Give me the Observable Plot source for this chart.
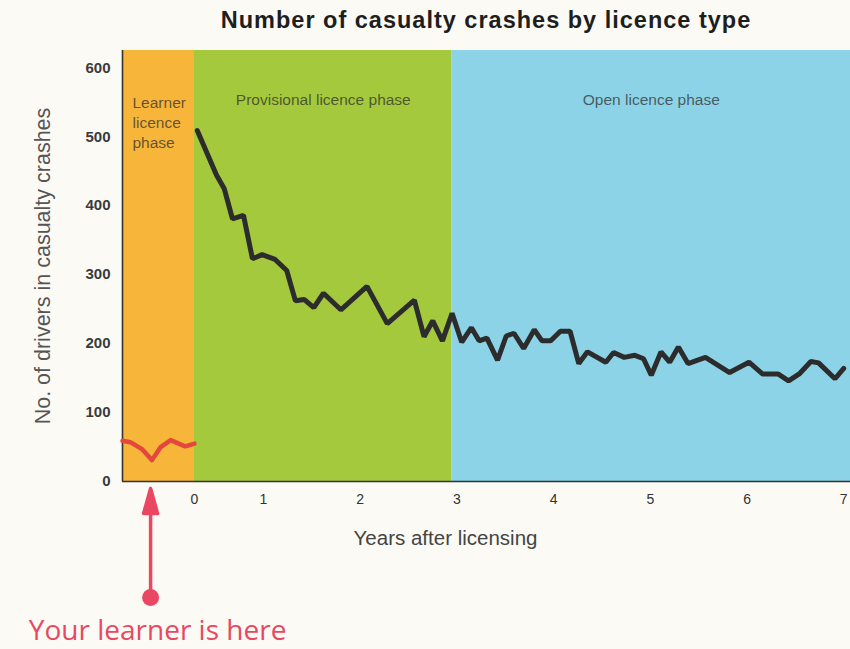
<!DOCTYPE html>
<html>
<head>
<meta charset="utf-8">
<script src="https://cdn.jsdelivr.net/npm/d3@7"></script>
<script src="https://cdn.jsdelivr.net/npm/@observablehq/plot@0.6"></script>
<style>
  body { margin: 0; background: #fbfaf5; width: 850px; height: 649px; overflow: hidden; font-family: "Liberation Sans", Arial, sans-serif; }
  #title { height: 40px; line-height: 40px; padding-left: 122px; text-align: center; font-size: 23.5px; font-weight: bold; letter-spacing: 1px; color: #1e1e1e; }
  #chart svg { display: block; overflow: visible; }
</style>
</head>
<body>
<div id="title"></div>
<div id="chart"></div>
<script>
// ---- data ----
const titleText = "Number of casualty crashes by licence type";
const yLabel = "No. of drivers in casualty crashes";
const xLabel = "Years after licensing";
const annotationText = "Your learner is here";

const phaseNames = ["Learner licence phase", "Provisional licence phase", "Open licence phase"];
const phaseBounds = [-1, 0, 2.95, 7.07];
const phaseColors = ["#f7b53a", "#a5c93d", "#8dd3e7"];

const xTicks = [0, 1, 2, 3, 4, 5, 6, 7];
const yTicks = [0, 100, 200, 300, 400, 500, 600];

const learnerYears = [-1.0, -0.89, -0.73, -0.59, -0.47, -0.33, -0.22, -0.13, 0.0];
const learnerCrashes = [59, 57, 47, 31, 50, 60, 55, 51, 55];

const licensedYears = [0.04, 0.32, 0.43, 0.55, 0.71, 0.84, 0.98, 1.12, 1.24, 1.33,
  1.42, 1.52, 1.62, 1.80, 2.07, 2.28, 2.56, 2.66, 2.75, 2.85,
  2.95, 3.05, 3.15, 3.23, 3.31, 3.42, 3.51, 3.59, 3.69, 3.80,
  3.88, 3.97, 4.07, 4.17, 4.26, 4.35, 4.54, 4.62, 4.73, 4.84,
  4.93, 5.01, 5.11, 5.20, 5.29, 5.39, 5.57, 5.82, 6.02, 6.16,
  6.32, 6.43, 6.54, 6.66, 6.74, 6.91, 7.00];
const licensedCrashes = [509, 444, 425, 381, 386, 323, 329, 322, 306, 262,
  264, 252, 273, 249, 283, 229, 263, 210, 233, 204,
  244, 202, 223, 204, 208, 176, 211, 215, 193, 220,
  204, 204, 218, 218, 171, 188, 173, 187, 180, 183,
  178, 154, 188, 173, 195, 171, 180, 158, 173, 156,
  156, 146, 156, 174, 172, 149, 164];

const learnerMarkerYear = -0.61;

// ---- derived tables ----
document.getElementById("title").textContent = titleText;

// The original's year axis is piecewise (the first year is compressed):
// years are warped onto a uniform axis, and tick labels map back to years.
const warpDomain = [-1, 0, 1, 7.07];
const warpRange = [0, 72, 141, 728];
const warp = d3.scaleLinear().domain(warpDomain).range(warpRange);

const phases = phaseNames.map((name, i) => ({
  name, start: warp(phaseBounds[i]), end: warp(phaseBounds[i + 1])
})).map(d => ({...d, mid: (d.start + d.end) / 2}));
const learner = learnerYears.map((x, i) => ({x: warp(x), y: learnerCrashes[i]}));
const licensed = licensedYears.map((x, i) => ({x: warp(x), y: licensedCrashes[i]}));
const markerX = warp(learnerMarkerYear);

const pink = "#ea4862";
const arrowShape = {
  draw(context, l) {
    const head = 25, half = 7;
    context.moveTo(0, 0);
    context.lineTo(0, -(l - head + 2));
    context.moveTo(-half, -(l - head));
    context.lineTo(0, -l);
    context.lineTo(half, -(l - head));
    context.closePath();
  }
};

const chart = Plot.plot({
  width: 850,
  height: 609,
  marginLeft: 122,
  marginRight: 0,
  marginTop: 10,
  marginBottom: 168,
  style: {fontFamily: "Liberation Sans, Arial, sans-serif", background: "transparent", color: "#333"},
  x: {domain: [warp(warpDomain[0]), warp(warpDomain[warpDomain.length - 1])]},
  y: {domain: [0, 625]},
  color: {domain: phaseNames, range: phaseColors},
  marks: [
    Plot.rect(phases, {x1: "start", x2: "end", fill: "name"}),
    Plot.text(phases.filter((d, i) => i === 0), {
      x: "start", text: "name", frameAnchor: "top", dy: 43, dx: 10, textAnchor: "start",
      lineAnchor: "top", lineWidth: 4.6, lineHeight: 1.3, fontSize: 15.5, fill: "#2a2a2a", fillOpacity: 0.72
    }),
    Plot.text(phases.filter((d, i) => i > 0), {
      x: "mid", text: "name", frameAnchor: "top", dy: 43, lineAnchor: "top", textAnchor: "middle",
      fontSize: 15.5, fill: "#2a2a2a", fillOpacity: 0.72
    }),
    Plot.ruleX([warp(warpDomain[0])], {stroke: "#333", strokeWidth: 1.6}),
    Plot.ruleY([0], {stroke: "#333", strokeWidth: 1.6}),
    Plot.axisY({ticks: yTicks, tickSize: 0, tickPadding: 12, fontSize: 15, fontWeight: "bold", fill: "#3a3a3a", label: null}),
    Plot.axisX({ticks: xTicks.map(warp), tickFormat: u => Math.round(warp.invert(u)), tickSize: 0, tickPadding: 13, fontSize: 14, fill: "#333", label: null}),
    Plot.text([yLabel], {frameAnchor: "left", textAnchor: "middle", lineAnchor: "middle", rotate: -90, dx: -79, fontSize: 21.5, fill: "#555", text: d => d}),
    Plot.text([xLabel], {frameAnchor: "bottom", textAnchor: "middle", dx: -41, dy: 57, lineAnchor: "middle", fontSize: 20.5, fill: "#444", text: d => d}),
    Plot.line(learner, {x: "x", y: "y", stroke: "#e4473b", strokeWidth: 4.5, strokeLinejoin: "round"}),
    Plot.line(licensed, {x: "x", y: "y", stroke: "#2c2c2c", strokeWidth: 5, strokeLinejoin: "miter"}),
    Plot.vector([markerX], {x: d => d, y: 0, dy: 116, length: 109, rotate: 0, anchor: "start",
      shape: arrowShape, stroke: pink, fill: pink, strokeWidth: 3.5}),
    Plot.dot([markerX], {x: d => d, y: 0, dy: 116, r: 8.5, fill: pink, stroke: "none"}),
    Plot.text([annotationText], {x: markerX, y: 0, dy: 150, dx: 7, lineAnchor: "middle", textAnchor: "middle",
      fontFamily: "Open Sans", fontSize: 28, fill: pink, text: d => d})
  ]
});
document.getElementById("chart").appendChild(chart);
</script>
</body>
</html>
